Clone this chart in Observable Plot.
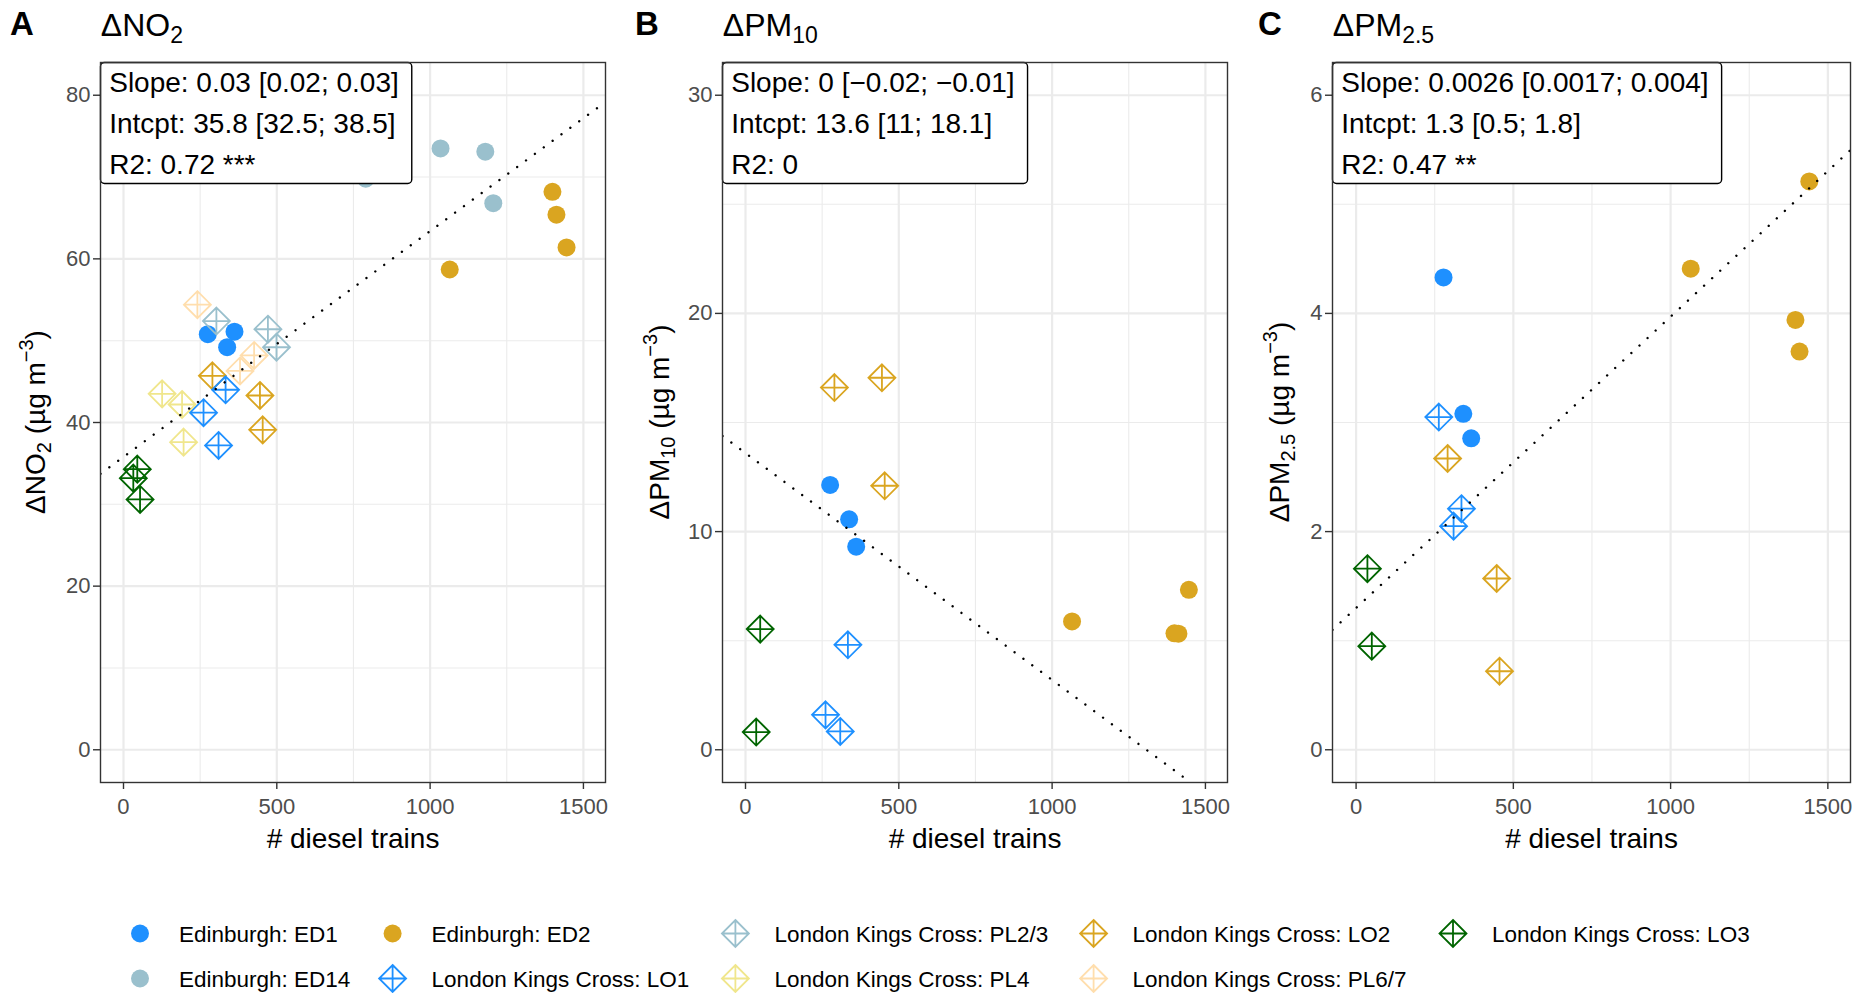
<!DOCTYPE html>
<html><head><meta charset="utf-8">
<script src="https://cdn.jsdelivr.net/npm/d3@7"></script>
<script src="https://cdn.jsdelivr.net/npm/@observablehq/plot@0.6"></script>
<style>
html,body{margin:0;padding:0;background:#fff;}
#root{position:relative;width:1860px;height:993px;overflow:hidden;font-family:"Liberation Sans",Arial,Helvetica,sans-serif;background:#fff;}
.panel{position:absolute;top:0;}
.overlay{position:absolute;left:0;top:0;pointer-events:none;}
</style></head><body><div id="root"></div><script>
// ---------------- DATA ----------------
const seriesNames = ["Edinburgh: ED1","Edinburgh: ED14","Edinburgh: ED2","London Kings Cross: LO1","London Kings Cross: PL2/3","London Kings Cross: PL4","London Kings Cross: LO2","London Kings Cross: PL6/7","London Kings Cross: LO3"];
const seriesColors = ["#1E90FF","#9AC0CD","#DAA520","#1E90FF","#9AC0CD","#F0E68C","#DAA520","#FFDEAD","#006400"];
const seriesShapes = ["circle","circle","circle","diamond","diamond","diamond","diamond","diamond","diamond"];

// Panel A: NO2
const no2Series = ["Edinburgh: ED1","Edinburgh: ED1","Edinburgh: ED1",
  "Edinburgh: ED14","Edinburgh: ED14","Edinburgh: ED14","Edinburgh: ED14",
  "Edinburgh: ED2","Edinburgh: ED2","Edinburgh: ED2","Edinburgh: ED2",
  "London Kings Cross: PL2/3","London Kings Cross: PL2/3","London Kings Cross: PL2/3",
  "London Kings Cross: PL6/7","London Kings Cross: PL6/7","London Kings Cross: PL6/7",
  "London Kings Cross: LO2","London Kings Cross: LO2","London Kings Cross: LO2",
  "London Kings Cross: LO1","London Kings Cross: LO1","London Kings Cross: LO1",
  "London Kings Cross: PL4","London Kings Cross: PL4","London Kings Cross: PL4",
  "London Kings Cross: LO3","London Kings Cross: LO3","London Kings Cross: LO3"];
const no2Trains = [275,338,362, 1034,1180,1206,790, 1399,1412,1445,1064, 303,471,499, 241,426,380, 290,445,454, 333,261,310, 126,191,196, 45,32,54];
const no2Values = [50.8,49.2,51.1, 73.5,73.1,66.8,69.8, 68.2,65.4,61.4,58.7, 52.4,51.4,49.2, 54.4,48.2,46.3, 45.7,43.3,39.1, 44.0,41.2,37.2, 43.5,42.2,37.6, 34.3,33.2,30.6];

// Panel B: PM10
const pm10Series = ["London Kings Cross: LO2","London Kings Cross: LO2","London Kings Cross: LO2",
  "Edinburgh: ED1","Edinburgh: ED1","Edinburgh: ED1",
  "Edinburgh: ED2","Edinburgh: ED2","Edinburgh: ED2","Edinburgh: ED2",
  "London Kings Cross: LO3","London Kings Cross: LO3",
  "London Kings Cross: LO1","London Kings Cross: LO1","London Kings Cross: LO1"];
const pm10Trains = [290,445,454, 276,338,361, 1065,1399,1412,1446, 48,35, 334,261,309];
const pm10Values = [16.6,17.05,12.1, 12.14,10.56,9.31, 5.88,5.34,5.32,7.33, 5.53,0.81, 4.81,1.6,0.84];

// Panel C: PM2.5
const pm25Series = ["Edinburgh: ED1","Edinburgh: ED1","Edinburgh: ED1",
  "Edinburgh: ED2","Edinburgh: ED2","Edinburgh: ED2","Edinburgh: ED2",
  "London Kings Cross: LO1","London Kings Cross: LO1","London Kings Cross: LO1",
  "London Kings Cross: LO2","London Kings Cross: LO2","London Kings Cross: LO2",
  "London Kings Cross: LO3","London Kings Cross: LO3"];
const pm25Trains = [278,341,366, 1441,1064,1397,1410, 263,335,310, 291,447,456, 36,50];
const pm25Values = [4.33,3.08,2.855, 5.21,4.41,3.94,3.65, 3.05,2.21,2.05, 2.67,1.57,0.72, 1.66,0.95];

// Regression fits
const fitIntercepts = [35.8, 13.6, 1.3];
const fitSlopes = [0.0276, -0.0104, 0.00267];
const statsLines = [
  ["Slope: 0.03 [0.02; 0.03]", "Intcpt: 35.8 [32.5; 38.5]", "R2: 0.72 ***"],
  ["Slope: 0 [\u22120.02; \u22120.01]", "Intcpt: 13.6 [11; 18.1]", "R2: 0"],
  ["Slope: 0.0026 [0.0017; 0.004]", "Intcpt: 1.3 [0.5; 1.8]", "R2: 0.47 **"]
];

// Axes / labels
const panelLetters = ["A","B","C"];
const titleMain = ["\u0394NO","\u0394PM","\u0394PM"];
const titleSub = ["2","10","2.5"];
const xLabel = "# diesel trains";
const xTicksMajor = [0,500,1000,1500];
const xTicksMinor = [250,750,1250];
const xDomain = [-75, 1572];
const yTicksMajor = [[0,20,40,60,80],[0,10,20,30],[0,2,4,6]];
const yTicksMinor = [[10,30,50,70],[5,15,25],[1,3,5]];
const yDomains = [[-4,84],[-1.5,31.5],[-0.3,6.3]];

// ---------------- LAYOUT ----------------
const panelLeft = [100, 722, 1332];
const panelWidth = [505, 505, 518];
const letterX = [10, 635, 1258];
const yTitleX = [44.5, 669.4, 1289.4];
const ML = 100, MR = 10, MT = 62, PH = 720, MB = 88;
const FONT = "'Liberation Sans', Arial, Helvetica, sans-serif";
const legendColX = [140, 392.6, 735.4, 1093.6, 1453];
const legendRowY = [933.5, 978.5];

const shapeOf = new Map(seriesNames.map((s,i)=>[s, seriesShapes[i]]));
const fmt = d => String(d);

const diamondPlus = {
  draw(ctx, size) {
    const r = Math.sqrt(size / Math.PI);
    ctx.moveTo(0,-r); ctx.lineTo(r,0); ctx.lineTo(0,r); ctx.lineTo(-r,0); ctx.closePath();
    ctx.moveTo(0,-r); ctx.lineTo(0,r);
    ctx.moveTo(-r,0); ctx.lineTo(r,0);
  }
};

const panels = [
  {series: no2Series, trains: no2Trains, values: no2Values},
  {series: pm10Series, trains: pm10Trains, values: pm10Values},
  {series: pm25Series, trains: pm25Trains, values: pm25Values}
];

const root = document.getElementById("root");
const NS = "http://www.w3.org/2000/svg";

panels.forEach((p, k) => {
  const data = p.series.map((s,i)=>({series: s, trains: p.trains[i], value: p.values[i]}));
  const circ = data.filter(d => shapeOf.get(d.series) === "circle");
  const diam = data.filter(d => shapeOf.get(d.series) === "diamond");
  const fit = xDomain.map(x => ({x, y: fitIntercepts[k] + fitSlopes[k]*x}));
  const plot = Plot.plot({
    width: ML + panelWidth[k] + MR,
    height: MT + PH + MB,
    marginLeft: ML, marginRight: MR, marginTop: MT, marginBottom: MB,
    style: {fontFamily: FONT, fontSize: "22px", background: "white", overflow: "visible"},
    x: {domain: xDomain},
    y: {domain: yDomains[k]},
    color: {domain: seriesNames, range: seriesColors},
    marks: [
      Plot.gridX(xTicksMinor, {stroke: "#EBEBEB", strokeOpacity: 1, strokeWidth: 1.1}),
      Plot.gridY(yTicksMinor[k], {stroke: "#EBEBEB", strokeOpacity: 1, strokeWidth: 1.1}),
      Plot.gridX(xTicksMajor, {stroke: "#EBEBEB", strokeOpacity: 1, strokeWidth: 2.2}),
      Plot.gridY(yTicksMajor[k], {stroke: "#EBEBEB", strokeOpacity: 1, strokeWidth: 2.2}),
      Plot.axisX(xTicksMajor, {tickSize: 7, tickPadding: 9, fontSize: 22, fill: "#4D4D4D", stroke: "#333333", strokeWidth: 1.4, label: null, tickFormat: fmt}),
      Plot.axisY(yTicksMajor[k], {tickSize: 7, tickPadding: 3, fontSize: 22, fill: "#4D4D4D", stroke: "#333333", strokeWidth: 1.4, label: null, tickFormat: fmt}),
      Plot.dot(circ, {x: "trains", y: "value", fill: "series", r: 9, stroke: null}),
      Plot.dot(diam, {x: "trains", y: "value", stroke: "series", fill: "none", symbol: diamondPlus, r: 13.5, strokeWidth: 1.8}),
      Plot.line(fit, {x: "x", y: "y", stroke: "black", strokeWidth: 2.4, strokeDasharray: "0.01 11", strokeLinecap: "round", clip: true}),
      Plot.text([statsLines[k].join("\n")], {text: d => d, frameAnchor: "top-left", lineAnchor: "top", textAnchor: "start", dx: 8.7, fontSize: 28, lineHeight: 1.4643, fill: "black"}),
      Plot.frame({stroke: "#333333", strokeWidth: 1.4}),
      Plot.text([xLabel], {text: d => d, frameAnchor: "bottom", lineAnchor: "bottom", dy: 65, fontSize: 28, fill: "black"})
    ]
  });
  const wrap = document.createElement("div");
  wrap.className = "panel";
  wrap.style.left = (panelLeft[k] - ML) + "px";
  wrap.appendChild(plot);
  root.appendChild(wrap);
  // label box behind stats text
  const txt = [...plot.querySelectorAll("text")].find(t => t.textContent.startsWith("Slope"));
  if (txt) {
    const bb = txt.getBBox();
    const rect = document.createElementNS(NS, "rect");
    rect.setAttribute("x", bb.x - 8.7);
    rect.setAttribute("y", 0);
    rect.setAttribute("width", bb.width + 8.7 + 13);
    rect.setAttribute("height", 121);
    rect.setAttribute("rx", 4);
    rect.setAttribute("fill", "white");
    rect.setAttribute("stroke", "black");
    rect.setAttribute("stroke-width", 1.4);
    const tr = txt.getAttribute("transform");
    if (tr) rect.setAttribute("transform", tr);
    txt.parentNode.insertBefore(rect, txt);
  }
});

// ---------------- OVERLAY: letters, titles, y titles, legend ----------------
const ov = document.createElementNS(NS, "svg");
ov.setAttribute("class", "overlay");
ov.setAttribute("width", 1860); ov.setAttribute("height", 993);
ov.setAttribute("font-family", FONT);
root.appendChild(ov);

function el(tag, attrs, parent) {
  const e = document.createElementNS(NS, tag);
  for (const k in attrs) e.setAttribute(k, attrs[k]);
  (parent || ov).appendChild(e);
  return e;
}
function tspan(parent, text, attrs) {
  const t = el("tspan", attrs || {}, parent);
  t.textContent = text;
  return t;
}

panelLetters.forEach((L, k) => {
  const a = el("text", {x: letterX[k], y: 34.5, "font-size": 33, "font-weight": "bold", fill: "black"});
  a.textContent = L;
  const t = el("text", {x: panelLeft[k] + 0.8, y: 35.5, "font-size": 32, fill: "black"});
  tspan(t, titleMain[k]);
  tspan(t, titleSub[k], {dy: 7, "font-size": 23});
  const cy = MT + PH / 2;
  const yt = el("text", {transform: `translate(${yTitleX[k]},${cy}) rotate(-90)`, "text-anchor": "middle", "font-size": 28, fill: "black"});
  tspan(yt, titleMain[k]);
  tspan(yt, titleSub[k], {dy: 6, "font-size": 20});
  tspan(yt, " (\u00B5g m", {dy: -6});
  tspan(yt, "\u22123", {dy: -12, "font-size": 20});
  tspan(yt, ")", {dy: 12});
});

// legend
seriesNames.forEach((s, i) => {
  const col = Math.floor(i / 2), row = i % 2;
  const cx = legendColX[col], cy = legendRowY[row];
  const g = el("g", {transform: `translate(${cx},${cy})`});
  if (seriesShapes[i] === "circle") {
    el("circle", {r: 9, fill: seriesColors[i]}, g);
  } else {
    const r = 13.5;
    el("path", {d: `M0,${-r}L${r},0L0,${r}L${-r},0ZM0,${-r}L0,${r}M${-r},0L${r},0`, fill: "none", stroke: seriesColors[i], "stroke-width": 1.8}, g);
  }
  const t = el("text", {x: cx + 39, y: cy + 8, "font-size": 22.5, fill: "black"});
  t.textContent = s;
});
</script></body></html>
